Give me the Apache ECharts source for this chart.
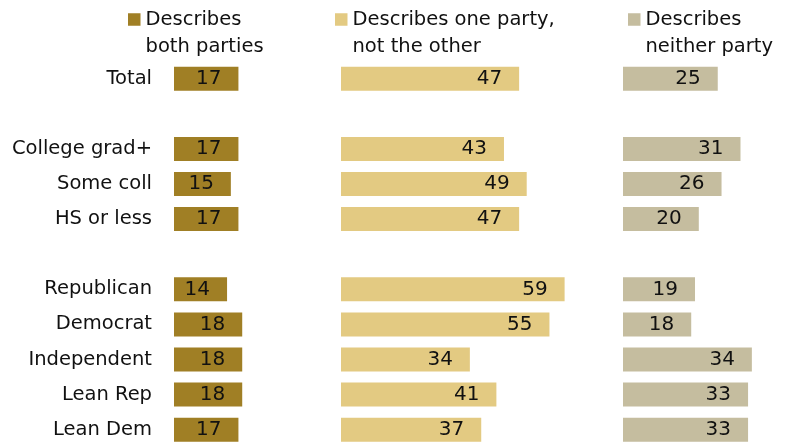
<!DOCTYPE html>
<html>
<head>
<meta charset="utf-8">
<script src="https://cdn.jsdelivr.net/npm/echarts@6/dist/echarts.min.js"></script>
<style>html,body{margin:0;padding:0;background:#fff}#c{width:785px;height:442px}</style>
</head>
<body>
<div id="c"></div>
<script>
var categories = ['Total', ' ', 'College grad+', 'Some coll', 'HS or less', '  ', 'Republican', 'Democrat', 'Independent', 'Lean Rep', 'Lean Dem'];
var seriesNames = ['Describes\nboth parties', 'Describes one party,\nnot the other', 'Describes\nneither party'];
var bothParties = [17, null, 17, 15, 17, null, 14, 18, 18, 18, 17];
var oneParty = [47, null, 43, 49, 47, null, 59, 55, 34, 41, 37];
var neitherParty = [25, null, 31, 26, 20, null, 19, 18, 34, 33, 33];
var colors = ['#a07f25', '#e3ca82', '#c5bd9f'];

var FONT = '"DejaVu Sans", Verdana, sans-serif';
var PX_PER_UNIT = 3.79;
var panelLeft = [174, 341, 623];
var panelWidth = [150, 260, 150];
var legendLeft = [128, 335, 628];
var values = [bothParties, oneParty, neitherParty];

var grids = [], xAxes = [], yAxes = [], series = [], legends = [];
for (var i = 0; i < 3; i++) {
  grids.push({left: panelLeft[i], width: panelWidth[i], top: 61.15, height: 386.1, containLabel: false, outerBoundsMode: 'none'});
  xAxes.push({gridIndex: i, type: 'value', min: 0, max: panelWidth[i] / PX_PER_UNIT, show: false});
  yAxes.push({
    gridIndex: i, type: 'category', data: categories, inverse: true,
    axisLine: {show: false}, axisTick: {show: false}, splitLine: {show: false},
    axisLabel: {show: i === 0, margin: 22, fontSize: 19.5, color: '#111', fontFamily: FONT}
  });
  series.push({
    type: 'bar', name: seriesNames[i], xAxisIndex: i, yAxisIndex: i,
    data: values[i], barWidth: 24, itemStyle: {color: colors[i]},
    animation: false,
    label: {show: true, position: 'insideRight', distance: 17, fontSize: 20, color: '#111', fontFamily: FONT}
  });
  legends.push({
    data: [seriesNames[i]], left: legendLeft[i], top: -21, padding: 0,
    itemWidth: 12.5, itemHeight: 12.5, icon: 'rect', selectedMode: false,
    formatter: function (name) { return ' \n' + name; },
    textStyle: {fontSize: 19.5, color: '#111', fontFamily: FONT, lineHeight: 27}
  });
}

var chart = echarts.init(document.getElementById('c'), null, {renderer: 'canvas'});
chart.setOption({
  animation: false,
  grid: grids, xAxis: xAxes, yAxis: yAxes, series: series, legend: legends
});
</script>
</body>
</html>
